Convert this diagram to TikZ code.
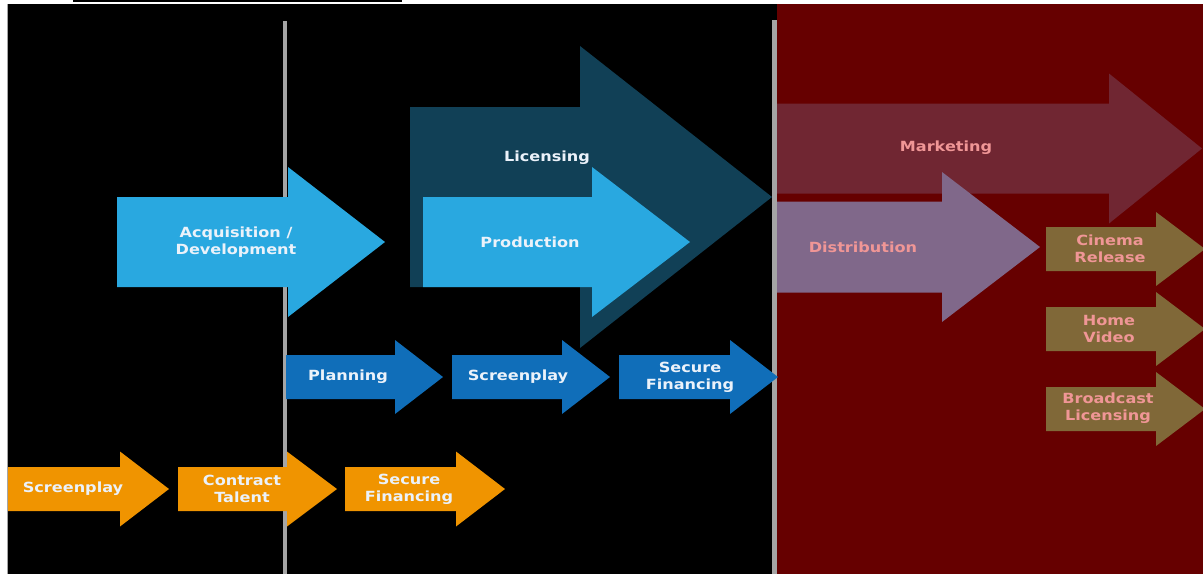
\documentclass[tikz,border=0pt]{standalone}
\usepackage{fontspec}
\newfontfamily\stagefont[FakeStretch=1.15]{DejaVu Sans}
\usepackage{tikz}
\definecolor{paneldark}{RGB}{0,0,0}
\definecolor{panelred}{RGB}{102,0,0}
\definecolor{divider}{RGB}{165,165,165}
\definecolor{skyblue}{RGB}{41,168,224}
\definecolor{deepteal}{RGB}{17,64,86}
\definecolor{stepblue}{RGB}{16,110,185}
\definecolor{steporange}{RGB}{240,148,0}
\definecolor{wine}{RGB}{112,38,50}
\definecolor{mauve}{RGB}{128,104,138}
\definecolor{olive}{RGB}{128,104,56}
\definecolor{pinktext}{RGB}{240,150,150}
\definecolor{paletext}{RGB}{235,242,250}

% colour, body start, head start, tip, centre, body half, head half
\newcommand{\stagearrow}[7]{%
  \fill[#1] (#2,#5-#6) -- (#3,#5-#6) -- (#3,#5-#7) -- (#4,#5)
    -- (#3,#5+#7) -- (#3,#5+#6) -- (#2,#5+#6) -- cycle;}

\tikzset{
  stagelabel/.style={font=\stagefont\bfseries\fontsize{14}{17}\selectfont,
    align=center,text=paletext,inner sep=0pt},
  redlabel/.style={stagelabel,text=pinktext}
}

\begin{document}
\begin{tikzpicture}[x=1pt,y=-1pt]
  \useasboundingbox (0,0) rectangle (1203,574);
  % panels
  \fill[white] (0,0) rectangle (1203,574);
  \fill[paneldark] (7,4) rectangle (777,574);
  \fill[panelred] (777,4) rectangle (1203,574);
  \draw[line width=1.2pt] (73,1) -- (402,1);
  \draw[divider,line width=1pt] (7.5,4) -- (7.5,574);

  % dividers
  \draw[divider,line width=4pt] (285,21) -- (285,574);
  \draw[divider,line width=5pt] (774,20) -- (774,574);

  % big arrows
  \stagearrow{deepteal}{410}{580}{772}{197}{90}{151}
  \stagearrow{skyblue}{117}{288}{385}{242}{45}{75}
  \stagearrow{skyblue}{423}{592}{690}{242}{45}{75}
  \stagearrow{wine}{777}{1109}{1202}{148.5}{45}{75}
  \stagearrow{mauve}{777}{942}{1040}{247}{45.5}{75}

  % small arrows
  \foreach \xa/\xb/\xc in {286/395/443, 452/562/610, 619/730/778}
    \stagearrow{stepblue}{\xa}{\xb}{\xc}{377}{22}{37};
  \foreach \xa/\xb/\xc in {8/120/169, 178/287/337, 345/456/505}
    \stagearrow{steporange}{\xa}{\xb}{\xc}{489}{22}{37.5};
  \foreach \yc in {249, 329, 409}
    \stagearrow{olive}{1046}{1156}{1205}{\yc}{22}{37};

  % labels
  \node[stagelabel] (acquisition) at (236,242) {Acquisition /\\Development};
  \node[stagelabel] (licensing) at (547,158) {Licensing};
  \node[stagelabel] (production) at (530,242) {Production};
  \node[stagelabel] (planning) at (348,377) {Planning};
  \node[stagelabel] (screenplayb) at (518,377) {Screenplay};
  \node[stagelabel] (financingb) at (690,377) {Secure\\Financing};
  \node[stagelabel] (screenplayo) at (73,489) {Screenplay};
  \node[stagelabel] (talent) at (242,489) {Contract\\Talent};
  \node[stagelabel] (financingo) at (409,489) {Secure\\Financing};
  \node[redlabel] (marketing) at (946,148) {Marketing};
  \node[redlabel] (distribution) at (863,247) {Distribution};
  \node[redlabel] (cinema) at (1110,249) {Cinema\\Release};
  \node[redlabel] (homevideo) at (1109,329) {Home\\Video};
  \node[redlabel] (broadcast) at (1108,408) {Broadcast\\Licensing};
\end{tikzpicture}
\end{document}
